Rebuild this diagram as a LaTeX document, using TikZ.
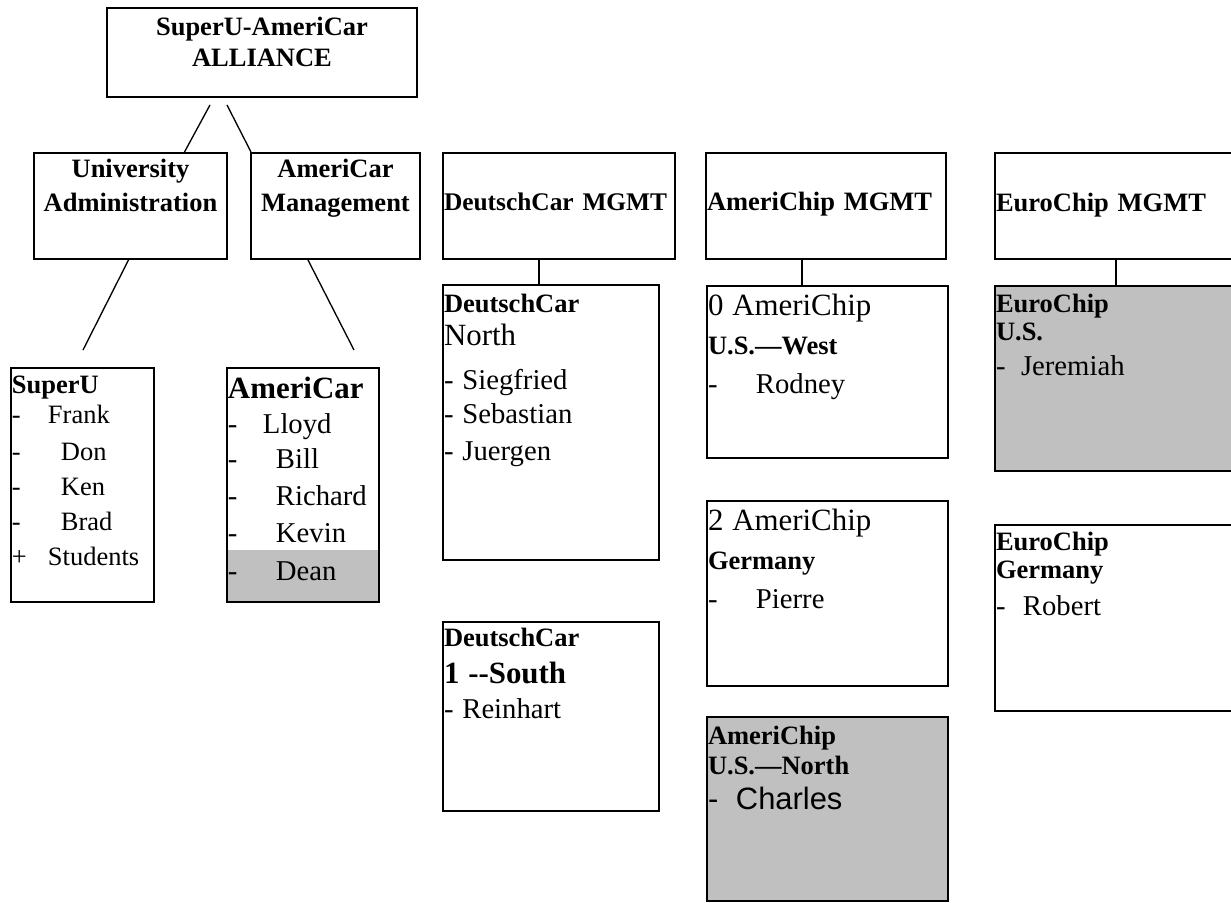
\documentclass[tikz,border=0pt]{standalone}
\usepackage{fontspec}
\setmainfont{Liberation Serif}
\setsansfont{Liberation Sans}
\usepackage{xcolor}
\usepackage{tikz}
\usetikzlibrary{backgrounds}
\definecolor{silver}{RGB}{192,192,192}

\newlength{\pxu}\setlength{\pxu}{0.453pt}
% one line of a box: baseline #1 px below the previous one
\newcommand{\Ln}[2]{\par\offinterlineskip\noindent\rule{0pt}{#1\pxu}\smash{#2}}
\newcommand{\itm}[3]{\makebox[#1\pxu][l]{#2}#3}
\newcommand{\bigf}{\fontsize{14}{16}\selectfont}
\newcommand{\midf}{\fontsize{13}{15}\selectfont}

\begin{document}
\begin{tikzpicture}[x=0.453pt,y=-0.453pt,
    block/.style={draw,line width=0.9pt,inner xsep=1\pxu,inner ysep=0pt,anchor=north west,
      font=\fontsize{12}{14}\selectfont},
    blk/.style 2 args={block,text width=#1\pxu-2\pxu,text height=0pt,text depth=#2\pxu},
    link/.style={line width=0.6pt}]
  \useasboundingbox (0,0) rectangle (1231,902);
  \clip (0,0) rectangle (1231,902);

  % alliance and its two managements
  \node[blk={310}{89},align=center] (alliance) at (106,7)
    {\Ln{28}{\textbf{SuperU-AmeriCar}}\Ln{30}{\textbf{ALLIANCE}}};
  \node[blk={193}{106},align=center] (univ) at (33,152)
    {\Ln{25}{\textbf{University}}\Ln{31}{\textbf{Administration}}};
  \node[blk={169}{106},align=center] (acmgmt) at (250,152)
    {\Ln{25}{\textbf{AmeriCar}}\Ln{31}{\textbf{Management}}};
  \node[blk={232}{106}] (dcmgmt) at (442,152)
    {\Ln{55}{\fontsize{11.5}{14}\selectfont\textbf{DeutschCar MGMT}}};
  \node[blk={240}{106}] (chipmgmt) at (705,152) {\Ln{55}{\textbf{AmeriChip MGMT}}};
  \node[blk={246}{106}] (euromgmt) at (994,152) {\Ln{56}{\textbf{EuroChip MGMT}}};

  \node[blk={143}{234}] (superu) at (10,367) {
    \Ln{26}{\textbf{SuperU}}
    \Ln{30}{\itm{36}{-}{Frank}}
    \Ln{37}{\itm{49}{-}{Don}}
    \Ln{35}{\itm{49}{-}{Ken}}
    \Ln{35}{\itm{49}{-}{Brad}}
    \Ln{32}{\itm{36}{+}{Students}}};
  \node[blk={152}{234}] (americar) at (226,367) {
    \Ln{31}{\bigf\textbf{AmeriCar}}
    \Ln{35}{\midf\itm{35}{-}{Lloyd}}
    \Ln{35}{\midf\itm{48}{-}{Bill}}
    \Ln{37}{\midf\itm{48}{-}{Richard}}
    \Ln{37}{\midf\itm{48}{-}{Kevin}}
    \Ln{35}{\midf\itm{48}{-}{Dean}}};
  \begin{scope}[on background layer]
    \fill[silver] ([shift={(0,-53)}]americar.south west) rectangle (americar.south east);
  \end{scope}

  % DeutschCar
  \node[blk={216}{275}] (dcnorth) at (442,284) {
    \Ln{28}{\textbf{DeutschCar}}
    \Ln{33}{\bigf North}
    \Ln{44}{\midf - Siegfried}
    \Ln{34}{\midf - Sebastian}
    \Ln{34}{\midf - Juergen}};
  \node[blk={216}{189}] (dcsouth) at (442,621) {
    \Ln{24}{\textbf{DeutschCar}}
    \Ln{37}{\bigf\textbf{1 -{}-South}}
    \Ln{33}{\midf - Reinhart}};

  % AmeriChip
  \node[blk={241}{172}] (acwest) at (706,285) {
    \Ln{30}{\bigf 0 AmeriChip}
    \Ln{39}{\textbf{U.S.—West}}
    \Ln{36}{\midf\itm{48}{-}{Rodney}}};
  \node[blk={241}{185}] (acger) at (706,500) {
    \Ln{30}{\bigf 2 AmeriChip}
    \Ln{39}{\textbf{Germany}}
    \Ln{36}{\midf\itm{48}{-}{Pierre}}};
  \node[blk={241}{184},fill=silver] (acnorth) at (706,716) {
    \Ln{27}{\textbf{AmeriChip}}
    \Ln{30}{\textbf{U.S.—North}}
    \Ln{33}{\sffamily\fontsize{14}{16}\selectfont\itm{28}{-}{Charles}}};

  % EuroChip
  \node[blk={246}{185},fill=silver] (ecus) at (994,285) {
    \Ln{27}{\textbf{EuroChip}}
    \Ln{28}{\textbf{U.S.}}
    \Ln{32}{\midf\itm{25}{-}{Jeremiah}}};
  \node[blk={246}{186}] (ecger) at (994,524) {
    \Ln{26}{\textbf{EuroChip}}
    \Ln{28}{\textbf{Germany}}
    \Ln{34}{\midf\itm{27}{-}{Robert}}};

  \draw[link] ([shift={(-52,7)}]alliance.south) -- ([shift={(54,0)}]univ.north);
  \draw[link] ([shift={(-35,7)}]alliance.south) -- ([shift={(-84.5,0)}]acmgmt.north);
  \draw[link] ([shift={(-2,0)}]univ.south) -- ([shift={(0.5,-17)}]superu.north);
  \draw[link] ([shift={(-27.5,0)}]acmgmt.south) -- ([shift={(51,-17)}]americar.north);
  \draw[link] ([shift={(-20,0)}]dcmgmt.south) -- ([shift={(-12,0)}]dcnorth.north);
  \draw[link] ([shift={(-24,0)}]chipmgmt.south) -- ([shift={(-25.5,0)}]acwest.north);
  \draw[link] ([shift={(-2,0)}]euromgmt.south) -- ([shift={(-2,0)}]ecus.north);
\end{tikzpicture}
\end{document}
